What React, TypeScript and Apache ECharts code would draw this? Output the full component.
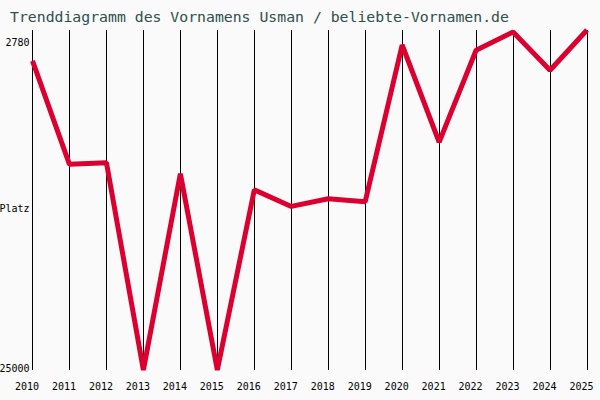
import { useEffect, useRef } from 'react';
import * as echarts from 'echarts';

const years = ['2010', '2011', '2012', '2013', '2014', '2015', '2016', '2017', '2018', '2019', '2020', '2021', '2022', '2023', '2024', '2025'];
const ranks = [4800, 11560, 11450, 25000, 12170, 25000, 13230, 14310, 13810, 14000, 3760, 10110, 4100, 2910, 5410, 2780];
const rankTicks = [2780, 25000];

const MONO = '"DejaVu Sans Mono", "Liberation Mono", monospace';

export default function App() {
  const chartRef = useRef<HTMLDivElement>(null);

  useEffect(() => {
    if (!chartRef.current) return;
    document.body.style.margin = '0';
    const chart = echarts.init(chartRef.current, undefined, { renderer: 'svg' });

    const option: echarts.EChartsOption = {
      animation: false,
      backgroundColor: '#fafafa',
      title: {
        text: 'Trenddiagramm des Vornamens Usman / beliebte-Vornamen.de',
        left: 10,
        top: 9,
        padding: 0,
        textStyle: {
          color: '#2f4f4f',
          fontFamily: MONO,
          fontSize: 14.8,
          fontWeight: 'normal',
        },
      },
      grid: { left: 32.5, right: 13, top: 30, bottom: 30, outerBoundsMode: 'none' } as any,
      xAxis: {
        type: 'category',
        data: years,
        boundaryGap: false,
        z: 3,
        axisLine: { show: false },
        axisTick: { show: false },
        axisLabel: {
          color: '#000',
          fontFamily: MONO,
          fontSize: 10,
          margin: 11,
          interval: 0,
          padding: [0, 11, 0, 0],
        },
        splitLine: { show: true, lineStyle: { color: '#000', width: 1 } },
      },
      yAxis: {
        type: 'value',
        inverse: true,
        min: rankTicks[0],
        max: rankTicks[rankTicks.length - 1],
        name: 'Platz',
        nameLocation: 'middle',
        nameRotate: 0,
        nameGap: 3,
        nameMoveOverlap: false,
        nameTextStyle: {
          color: '#000',
          fontFamily: MONO,
          fontSize: 10,
          align: 'right',
          verticalAlign: 'top',
          padding: [3, 0, 0, 0],
        },
        axisLine: { show: false },
        axisTick: { show: false },
        splitLine: { show: false },
        axisLabel: {
          customValues: rankTicks,
          margin: 3,
          color: '#000',
          fontFamily: MONO,
          fontSize: 10,
          formatter: (v: number) => (v === rankTicks[0] ? `{top|${v}}` : `{bot|${v}}`),
          rich: {
            top: { fontFamily: MONO, fontSize: 10, color: '#000', padding: [24, 0, 0, 0] },
            bot: { fontFamily: MONO, fontSize: 10, color: '#000', padding: [0, 0, 4, 0] },
          },
        },
      } as any,
      series: [
        {
          type: 'line',
          data: ranks,
          symbol: 'none',
          lineStyle: { color: '#dc0030', width: 5 },
        },
      ],
    };

    chart.setOption(option);
    return () => chart.dispose();
  }, []);

  return <div ref={chartRef} style={{ width: 600, height: 400 }} />;
}
